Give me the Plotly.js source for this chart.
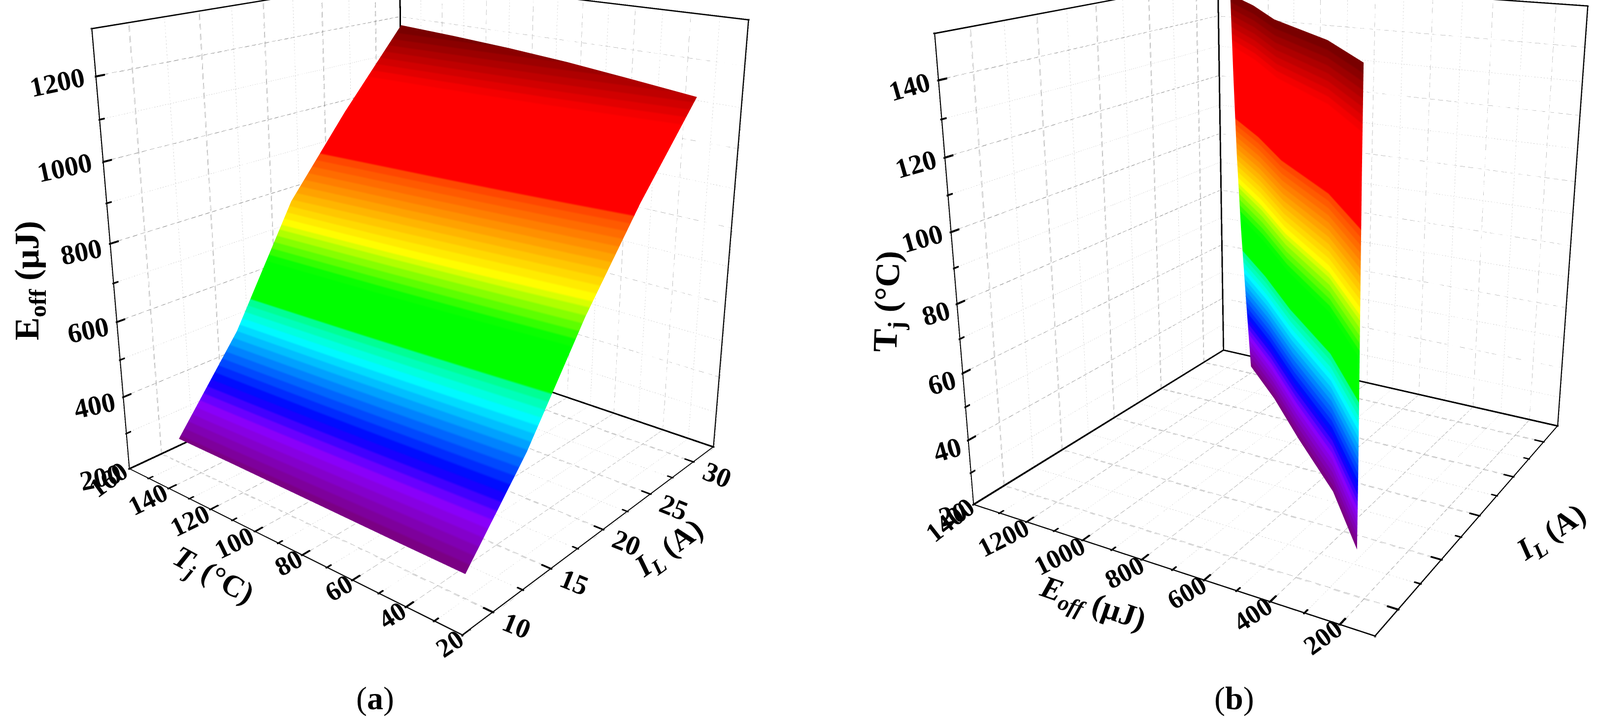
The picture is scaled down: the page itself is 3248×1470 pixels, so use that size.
<!DOCTYPE html>
<html>
<head>
<meta charset="utf-8">
<script src="https://cdn.plot.ly/plotly-3.0.1.min.js"></script>
<style>
html,body{margin:0;background:#fff;overflow:hidden;width:3248px;height:1470px}
#chart{position:absolute;left:0;top:-640px;width:3320px;height:2280px}
</style>
</head>
<body>
<div id="chart"></div>
<script>
// Tj and IL read separately from each panel, the two views do not land on quite the same ends
const tjValuesA = [30, 54, 78, 102, 126, 150];
const tjValuesB = [28, 52, 76, 100, 126, 151];
const ilValuesA = [10, 15, 20, 25, 30.5];
const ilValuesB = [11.5, 16, 20.5, 24.5, 28];
// one row per Tj, one column per IL
const eoffRows = [
  [262, 462, 712, 925, 1130],
  [263, 470, 730, 945, 1148],
  [265, 478, 748, 962, 1165],
  [267, 485, 765, 975, 1178],
  [269, 490, 780, 985, 1188],
  [270, 495, 795, 995, 1196],
];
const tjTicks = [20, 40, 60, 80, 100, 120, 140, 160];
const tjAngles = [-34, -32, -30, -28, -26, -26, -26, -36];
const ilTicks = [10, 15, 20, 25, 30];
const eoffTicksA = [200, 400, 600, 800, 1000, 1200];
const eoffTicksB = [200, 400, 600, 800, 1000, 1200, 1400];
const eoffAnglesB = [-36, -33, -30, -28, -27, -27, -38];
const tjTicksB = [20, 40, 60, 80, 100, 120, 140];

const rainbow = [
  [0, '#7a0078'], [0.089, '#8a00ff'], [0.142, '#0000ff'], [0.276, '#00ffff'], [0.329, '#00ff80'],
  [0.33, '#00ff00'], [0.426, '#00ff00'], [0.522, '#ffff00'], [0.686, '#ff4000'], [0.688, '#ff0000'],
  [0.873, '#ff0000'], [1, '#700000'],
];

const chartW = 3320, chartH = 2280, chartTop = -640, sceneH = 2220;

function stepped(stops, count) {
  const hex = (c) => [1, 3, 5].map((i) => parseInt(c.slice(i, i + 2), 16));
  const at = (t) => {
    let k = 0;
    while (k < stops.length - 2 && stops[k + 1][0] < t) k += 1;
    const f = (t - stops[k][0]) / (stops[k + 1][0] - stops[k][0]);
    const a = hex(stops[k][1]);
    const b = hex(stops[k + 1][1]);
    return `rgb(${a.map((v, i) => Math.round(v + (b[i] - v) * f)).join(',')})`;
  };
  const out = [];
  for (let i = 0; i < count; i += 1) {
    const c = at((i + 0.5) / count);
    out.push([i / count, c], [(i + 1) / count, c]);
  }
  return out;
}

const flatLight = { ambient: 1, diffuse: 0, specular: 0, roughness: 1, fresnel: 0 };

function between(ticks) {
  const mids = [];
  for (let i = 0; i < ticks.length - 1; i += 1) mids.push((ticks[i] + ticks[i + 1]) / 2);
  return mids;
}

// walls and floor: one [from, to] pair per grid line
function gridSegments(xs, ys, zs, xr, yr, zr) {
  const out = [];
  xs.forEach((x) => { out.push([[x, yr[0], zr[0]], [x, yr[1], zr[0]]], [[x, yr[1], zr[0]], [x, yr[1], zr[1]]]); });
  ys.forEach((y) => { out.push([[xr[0], y, zr[0]], [xr[1], y, zr[0]]], [[xr[1], y, zr[0]], [xr[1], y, zr[1]]]); });
  zs.forEach((z) => { out.push([[xr[0], yr[1], z], [xr[1], yr[1], z]], [[xr[1], yr[0], z], [xr[1], yr[1], z]]); });
  return out;
}

function frameSegments(xr, yr, zr) {
  return [
    [[xr[0], yr[0], zr[0]], [xr[1], yr[0], zr[0]]],
    [[xr[0], yr[0], zr[0]], [xr[0], yr[1], zr[0]]],
    [[xr[1], yr[1], zr[0]], [xr[1], yr[0], zr[0]]],
    [[xr[1], yr[1], zr[0]], [xr[0], yr[1], zr[0]]],
    [[xr[0], yr[1], zr[0]], [xr[0], yr[1], zr[1]]],
    [[xr[1], yr[1], zr[0]], [xr[1], yr[1], zr[1]]],
    [[xr[1], yr[0], zr[0]], [xr[1], yr[0], zr[1]]],
    [[xr[0], yr[1], zr[1]], [xr[1], yr[1], zr[1]]],
    [[xr[1], yr[1], zr[1]], [xr[1], yr[0], zr[1]]],
  ];
}

function tickSegments(xs, ys, zs, xr, yr, zr, frac) {
  const out = [];
  xs.forEach((v) => out.push([[v, yr[0], zr[0]], [v, yr[0] + (yr[1] - yr[0]) * frac, zr[0]]]));
  ys.forEach((v) => out.push([[xr[0], v, zr[0]], [xr[0] + (xr[1] - xr[0]) * frac, v, zr[0]]]));
  zs.forEach((v) => out.push([[xr[0], yr[1], v], [xr[0] + (xr[1] - xr[0]) * frac, yr[1], v]]));
  return out;
}

function dashedLines(segments, count, duty, scene, color, nudge) {
  const X = [], Y = [], Z = [];
  segments.forEach(([a, b]) => {
    for (let i = 0; i < count; i += 1) {
      const s = i / count, e = (i + duty) / count;
      X.push(a[0] + (b[0] - a[0]) * s + nudge[0], a[0] + (b[0] - a[0]) * e + nudge[0], null);
      Y.push(a[1] + (b[1] - a[1]) * s + nudge[1], a[1] + (b[1] - a[1]) * e + nudge[1], null);
      Z.push(a[2] + (b[2] - a[2]) * s + nudge[2], a[2] + (b[2] - a[2]) * e + nudge[2], null);
    }
  });
  return { type: 'scatter3d', mode: 'lines', x: X, y: Y, z: Z, scene, line: { color, width: 1 }, hoverinfo: 'skip', showlegend: false, connectgaps: false };
}

// gl lines stay 1px wide here, so heavy edges are thin prisms
function barMesh(segments, half, xr, yr, zr, scene) {
  const X = [], Y = [], Z = [], I = [], J = [], K = [];
  const sizes = [xr[1] - xr[0], yr[1] - yr[0], zr[1] - zr[0]];
  const quads = [[0, 1, 3, 2], [4, 5, 7, 6], [0, 1, 5, 4], [2, 3, 7, 6], [0, 2, 6, 4], [1, 3, 7, 5]];
  segments.forEach(([a, b]) => {
    const along = a.findIndex((v, i) => v !== b[i]);
    const others = [0, 1, 2].filter((i) => i !== along);
    const base = X.length;
    [a, b].forEach((p) => {
      [-1, 1].forEach((u) => {
        [-1, 1].forEach((v) => {
          const q = p.slice();
          q[others[0]] += u * half * sizes[others[0]];
          q[others[1]] += v * half * sizes[others[1]];
          X.push(q[0]); Y.push(q[1]); Z.push(q[2]);
        });
      });
    });
    quads.forEach((c) => {
      I.push(base + c[0], base + c[0]); J.push(base + c[1], base + c[2]); K.push(base + c[2], base + c[3]);
    });
  });
  return { type: 'mesh3d', x: X, y: Y, z: Z, i: I, j: J, k: K, scene, color: '#000000', lighting: flatLight, flatshading: true, hoverinfo: 'skip', showscale: false };
}

function panelTraces(scene, xr, yr, zr, xs, ys, zs) {
  const minorX = between(xs), minorY = between(ys), minorZ = between(zs);
  const major = gridSegments(xs, ys, zs, xr, yr, zr);
  const nudge = [(xr[1] - xr[0]) * 0.0012, -(yr[1] - yr[0]) * 0.0012, (zr[1] - zr[0]) * 0.0012];
  return [
    dashedLines(major, 46, 0.62, scene, '#7c7c7c', [0, 0, 0]),
    dashedLines(major, 46, 0.62, scene, '#7c7c7c', nudge),
    dashedLines(gridSegments(minorX, minorY, minorZ, xr, yr, zr), 130, 0.42, scene, '#a0a0a0', [0, 0, 0]),
    barMesh(frameSegments(xr, yr, zr), 0.0028, xr, yr, zr, scene),
    barMesh(tickSegments(xs, ys, zs, xr, yr, zr, 0.026), 0.0018, xr, yr, zr, scene),
    barMesh(tickSegments(minorX, minorY, minorZ, xr, yr, zr, 0.016), 0.0016, xr, yr, zr, scene),
  ];
}

function hiddenAxis(range) {
  return {
    range, showgrid: false, zeroline: false, showline: false, showticklabels: false, ticks: '',
    showbackground: false, showspikes: false, title: { text: '' },
  };
}

const xrA = [7.5, 32.5], yrA = [20, 160], zrA = [200, 1310];
const xrB = [7.5, 32.5], yrB = [100, 1400], zrB = [20, 152];

const surfaceA = {
  type: 'surface', scene: 'scene', x: ilValuesA, y: tjValuesA, z: eoffRows,
  colorscale: stepped(rainbow, 64), cmin: 262, cmax: 1196,
  showscale: false, lighting: flatLight, hoverinfo: 'skip',
};
const surfaceB = {
  type: 'surface', scene: 'scene2',
  x: eoffRows.map(() => ilValuesB),
  y: eoffRows,
  z: tjValuesB.map((t) => ilValuesB.map(() => t)),
  colorscale: stepped(rainbow, 64), cmin: 28, cmax: 151,
  showscale: false, lighting: flatLight, hoverinfo: 'skip',
};

const serif = '"Liberation Serif", serif';

function label(x, y, z, text, angle, dx, dy, size) {
  return {
    x, y, z, text: `<b>${text}</b>`, textangle: angle, xshift: dx, yshift: dy, showarrow: false,
    xanchor: 'center', yanchor: 'middle', font: { family: serif, size, color: '#000000' },
  };
}

// text placed by page pixels, for axis titles and panel captions
function pageText(px, py, text, angle, size) {
  return {
    xref: 'paper', yref: 'paper', x: px / chartW, y: 1 - (py - chartTop) / chartH,
    text, textangle: angle, showarrow: false, xanchor: 'center', yanchor: 'middle',
    font: { family: serif, size, color: '#000000' },
  };
}

const digits = (t) => String(t).length;

const annotationsA = [
  ...tjTicks.map((t, i) => label(xrA[0], t, zrA[0], t, tjAngles[i], digits(t) > 2 ? -40 : -26, digits(t) > 2 ? -21 : -14, 54)),
  ...ilTicks.map((t) => label(t, yrA[0], zrA[0], t, 22, 46, -25, 56)),
  ...eoffTicksA.map((t) => label(xrA[0], yrA[1], t, t, -12, digits(t) > 3 ? -76 : -56, digits(t) > 3 ? -11 : -16, 56)),
];
const annotationsB = [
  ...eoffTicksB.map((t, i) => label(xrB[0], t, zrB[0], t, eoffAnglesB[i], digits(t) > 3 ? -45 : -33, digits(t) > 3 ? -30 : -23, 54)),
  ...ilTicks.map((t) => label(t, yrB[0], zrB[0], t, 9, 50, -15, 58)),
  ...tjTicksB.map((t) => label(xrB[0], yrB[1], t, t, -16, digits(t) > 2 ? -56 : -40, digits(t) > 2 ? -12 : -18, 56)),
];

function sceneLayout(cx, cy, halfW, aspect, eye, notes, xr, yr, zr) {
  return {
    domain: {
      x: [(cx - halfW) / chartW, (cx + halfW) / chartW],
      y: [1 - (cy - chartTop + sceneH / 2) / chartH, 1 - (cy - chartTop - sceneH / 2) / chartH],
    },
    aspectmode: 'manual',
    aspectratio: aspect,
    camera: { eye, center: { x: 0, y: 0, z: 0 }, up: { x: 0, y: 0, z: 1 }, projection: { type: 'perspective' } },
    xaxis: hiddenAxis(xr), yaxis: hiddenAxis(yr), zaxis: hiddenAxis(zr),
    annotations: notes,
  };
}

const layout = {
  width: chartW, height: chartH, margin: { l: 0, r: 0, t: 0, b: 0 },
  paper_bgcolor: '#ffffff', showlegend: false, hovermode: false,
  scene: sceneLayout(865, 515, 865, { x: 0.96, y: 0.98, z: 1.015 }, { x: -2.1, y: -1.76, z: 0.98 }, annotationsA, xrA, yrA, zrA),
  scene2: sceneLayout(2605, 514, 715, { x: 0.99, y: 0.95, z: 1.0 }, { x: -2.32, y: -1.34, z: 0.885 }, annotationsB, xrB, yrB, zrB),
  annotations: [
    pageText(761, 1418, '(<b>a</b>)', 0, 66),
    pageText(2505, 1418, '(<b>b</b>)', 0, 66),
    pageText(60, 570, '<b>E<sub>off</sub> (μJ)</b>', -90, 70),
    pageText(432, 1170, '<b><i>T<sub>j</sub></i> (°C)</b>', 29, 62),
    pageText(1359, 1115, '<b><i>I<sub>L</sub></i> (A)</b>', -36, 62),
    pageText(1805, 612, '<b>T<sub>j</sub> (°C)</b>', -88, 70),
    pageText(2218, 1228, '<b><i>E<sub>off</sub></i> (μJ)</b>', 19, 64),
    pageText(3150, 1083, '<b><i>I<sub>L</sub></i> (A)</b>', -34, 62),
  ],
};

const traces = [
  surfaceA, ...panelTraces('scene', xrA, yrA, zrA, ilTicks, tjTicks, eoffTicksA),
  surfaceB, ...panelTraces('scene2', xrB, yrB, zrB, ilTicks, eoffTicksB, tjTicksB),
];
Plotly.newPlot('chart', traces, layout, { displayModeBar: false });
</script>
</body>
</html>
